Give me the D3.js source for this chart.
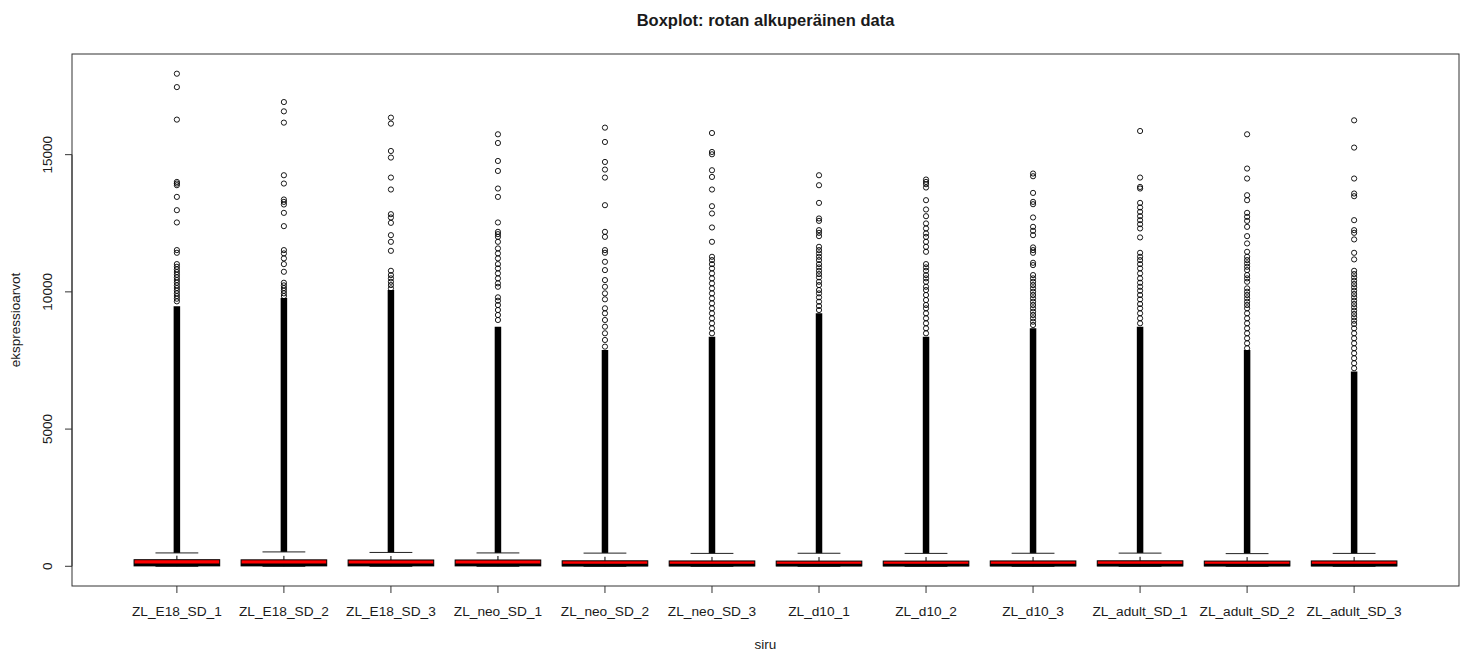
<!DOCTYPE html>
<html>
<head>
<meta charset="utf-8">
<script src="https://cdn.jsdelivr.net/npm/d3@7"></script>
<style>
  body { margin: 0; background: #fff; }
  text { font-family: "Liberation Sans", Arial, sans-serif; fill: #1a1a1a; }
</style>
</head>
<body>
<div id="chart"></div>
<script>
// sample names (x categories)
var samples = ["ZL_E18_SD_1", "ZL_E18_SD_2", "ZL_E18_SD_3", "ZL_neo_SD_1", "ZL_neo_SD_2", "ZL_neo_SD_3",
    "ZL_d10_1", "ZL_d10_2", "ZL_d10_3", "ZL_adult_SD_1", "ZL_adult_SD_2", "ZL_adult_SD_3"];

// box statistics
var whiskerLow = [0, 0, 0, 0, 0, 0, 0, 0, 0, 0, 0, 0];
var q1 = [15, 15, 15, 15, 12, 12, 12, 12, 12, 12, 12, 12];
var median = [60, 60, 60, 60, 50, 50, 50, 50, 50, 50, 50, 50];
var q3 = [240, 235, 230, 230, 200, 195, 190, 190, 195, 200, 190, 195];
var whiskerHigh = [487, 524, 505, 487, 480, 470, 475, 470, 475, 480, 462, 470];

// outliers are so many near the box that they merge into a solid column up to this value
var denseTop = [9480, 9775, 10066, 8731, 7884, 8367, 9218, 8367, 8673, 8731, 7884, 7094];

// the separate outliers above the solid column
var outliers = [
    [17950, 17462, 16277, 14006, 13948, 13887, 13461, 12977, 12529, 11523, 11424, 11012, 10914, 10819, 10722, 10623, 10529, 10431, 10335, 10237, 10140, 10041, 9946, 9848, 9750, 9655],
    [16917, 16578, 16167, 14250, 13948, 13366, 13279, 13184, 12879, 12395, 11522, 11401, 11220, 11012, 10732, 10332, 10237, 10139, 10041, 9946, 9848],
    [16349, 16131, 15134, 14894, 14166, 13730, 12831, 12711, 12515, 12067, 11824, 11496, 10768, 10612, 10492, 10368, 10248, 10128],
    [15742, 15425, 14770, 14406, 13766, 13461, 12529, 12187, 12104, 12005, 11824, 11583, 11401, 11220, 11012, 10856, 10674, 10492, 10310, 10186, 9801, 9677, 9521, 9339, 9157, 8975],
    [15985, 15462, 14734, 14457, 14166, 13159, 12187, 12005, 11522, 11423, 11096, 10794, 10430, 10186, 9946, 9728, 9401, 9219, 8975, 8731, 8491, 8247, 8004],
    [15789, 15098, 15014, 14432, 14188, 13730, 13122, 12857, 12347, 11824, 11278, 11158, 11012, 10856, 10674, 10492, 10310, 10128, 9946, 9764, 9583, 9401, 9219, 9037, 8855, 8673, 8491],
    [14250, 13886, 13242, 12675, 12587, 12249, 12151, 12031, 11642, 11522, 11401, 11278, 11158, 11012, 10892, 10768, 10648, 10528, 10368, 10248, 10066, 9946, 9801, 9641, 9484, 9339],
    [14094, 14006, 13923, 13803, 13341, 13002, 12758, 12493, 12311, 12129, 12005, 11824, 11642, 11460, 11012, 10892, 10768, 10612, 10492, 10368, 10186, 10066, 9885, 9703, 9521, 9401, 9219, 9037, 8855, 8673, 8491],
    [14312, 14214, 13606, 13279, 13195, 12711, 12369, 12224, 12067, 11620, 11522, 11423, 11060, 10976, 10612, 10492, 10368, 10248, 10128, 10005, 9885, 9764, 9641, 9521, 9401, 9277, 9157, 9037, 8913, 8793],
    [15862, 14166, 13824, 13766, 13242, 13075, 12915, 12758, 12613, 12467, 12311, 11984, 11423, 11278, 11158, 11012, 10856, 10674, 10492, 10332, 10186, 10041, 9885, 9728, 9557, 9401, 9219, 9037, 8855],
    [15742, 14494, 14130, 13522, 13341, 12879, 12733, 12587, 12369, 12031, 11765, 11460, 11278, 11158, 11038, 10914, 10794, 10612, 10492, 10368, 10128, 10005, 9885, 9764, 9641, 9521, 9401, 9219, 9037, 8855, 8673, 8491, 8309, 8127, 7945],
    [16251, 15258, 14130, 13584, 13486, 12613, 12249, 12151, 11911, 11423, 11183, 10768, 10648, 10528, 10405, 10285, 10165, 10041, 9921, 9801, 9677, 9557, 9437, 9313, 9193, 9073, 8949, 8829, 8673, 8491, 8309, 8127, 7945, 7764, 7582, 7400, 7218]
];

var yTicks = [0, 5000, 10000, 15000];

var W = 1468, H = 653;
var margin = { top: 54, right: 9, bottom: 67, left: 72 };

var svg = d3.select("#chart").append("svg")
    .attr("width", W)
    .attr("height", H);

var n = samples.length;

// R style: 4% padding on both axes
var x = d3.scaleLinear()
    .domain([0.5 - 0.04 * n, n + 0.5 + 0.04 * n])
    .range([margin.left, W - margin.right]);

var yMin = 0;
var yMax = d3.max(outliers, function(o) { return d3.max(o); });
var yPad = (yMax - yMin) * 0.04;
var y = d3.scaleLinear()
    .domain([yMin - yPad, yMax + yPad])
    .range([H - margin.bottom, margin.top]);

var boxW = (x(1) - x(0)) * 0.8;
var stapleW = boxW / 2;

// title
svg.append("text")
    .attr("x", (margin.left + W - margin.right) / 2)
    .attr("y", 26)
    .attr("text-anchor", "middle")
    .attr("font-size", 16.5)
    .attr("font-weight", "bold")
    .text("Boxplot: rotan alkuperäinen data");

var g = svg.append("g");

samples.forEach(function(s, i) {
    var cx = x(i + 1);

    // solid column of overlapping outliers
    g.append("line")
        .attr("x1", cx).attr("x2", cx)
        .attr("y1", y(whiskerHigh[i]))
        .attr("y2", y(denseTop[i]))
        .attr("stroke", "#000")
        .attr("stroke-width", 6.5);

    // separate outliers
    g.selectAll(".out-" + i)
        .data(outliers[i])
        .enter().append("circle")
        .attr("class", "out-" + i)
        .attr("cx", cx)
        .attr("cy", function(d) { return y(d); })
        .attr("r", 2.6)
        .attr("fill", "none")
        .attr("stroke", "#000")
        .attr("stroke-width", 0.9);

    // whiskers (dashed) and staples
    g.append("line")
        .attr("x1", cx).attr("x2", cx)
        .attr("y1", y(q3[i])).attr("y2", y(whiskerHigh[i]))
        .attr("stroke", "#000").attr("stroke-dasharray", "4,4");
    g.append("line")
        .attr("x1", cx).attr("x2", cx)
        .attr("y1", y(q1[i])).attr("y2", y(whiskerLow[i]))
        .attr("stroke", "#000").attr("stroke-dasharray", "4,4");
    [whiskerHigh[i], whiskerLow[i]].forEach(function(v) {
        g.append("line")
            .attr("x1", cx - stapleW / 2).attr("x2", cx + stapleW / 2)
            .attr("y1", y(v)).attr("y2", y(v))
            .attr("stroke", "#222");
    });

    // box
    g.append("rect")
        .attr("x", cx - boxW / 2)
        .attr("width", boxW)
        .attr("y", y(q3[i]))
        .attr("height", y(q1[i]) - y(q3[i]))
        .attr("fill", "red")
        .attr("stroke", "#000")
        .attr("stroke-width", 1);

    // median
    g.append("line")
        .attr("x1", cx - boxW / 2).attr("x2", cx + boxW / 2)
        .attr("y1", y(median[i])).attr("y2", y(median[i]))
        .attr("stroke", "#000")
        .attr("stroke-width", 2.5);
});

// frame
svg.append("rect")
    .attr("x", margin.left)
    .attr("y", margin.top)
    .attr("width", W - margin.right - margin.left)
    .attr("height", H - margin.bottom - margin.top)
    .attr("fill", "none")
    .attr("stroke", "#333");

// y axis
var yAxis = svg.append("g").attr("class", "y-axis");
yAxis.append("line")
    .attr("x1", margin.left).attr("x2", margin.left)
    .attr("y1", y(yTicks[0])).attr("y2", y(yTicks[yTicks.length - 1]))
    .attr("stroke", "#333");
yTicks.forEach(function(t) {
    yAxis.append("line")
        .attr("x1", margin.left - 7).attr("x2", margin.left)
        .attr("y1", y(t)).attr("y2", y(t))
        .attr("stroke", "#333");
    yAxis.append("text")
        .attr("transform", "translate(" + (margin.left - 20) + "," + y(t) + ") rotate(-90)")
        .attr("text-anchor", "middle")
        .attr("font-size", 13.5)
        .text(t);
});

// x axis
var xAxis = svg.append("g").attr("class", "x-axis");
samples.forEach(function(s, i) {
    var cx = x(i + 1);
    xAxis.append("line")
        .attr("x1", cx).attr("x2", cx)
        .attr("y1", H - margin.bottom).attr("y2", H - margin.bottom + 7)
        .attr("stroke", "#333");
    xAxis.append("text")
        .attr("x", cx)
        .attr("y", 616)
        .attr("text-anchor", "middle")
        .attr("font-size", 13.7)
        .text(s);
});

// axis titles
svg.append("text")
    .attr("x", (margin.left + W - margin.right) / 2)
    .attr("y", 649)
    .attr("text-anchor", "middle")
    .attr("font-size", 13.5)
    .text("siru");

svg.append("text")
    .attr("transform", "translate(20," + ((margin.top + H - margin.bottom) / 2) + ") rotate(-90)")
    .attr("text-anchor", "middle")
    .attr("font-size", 13.5)
    .text("ekspressioarvot");
</script>
</body>
</html>
